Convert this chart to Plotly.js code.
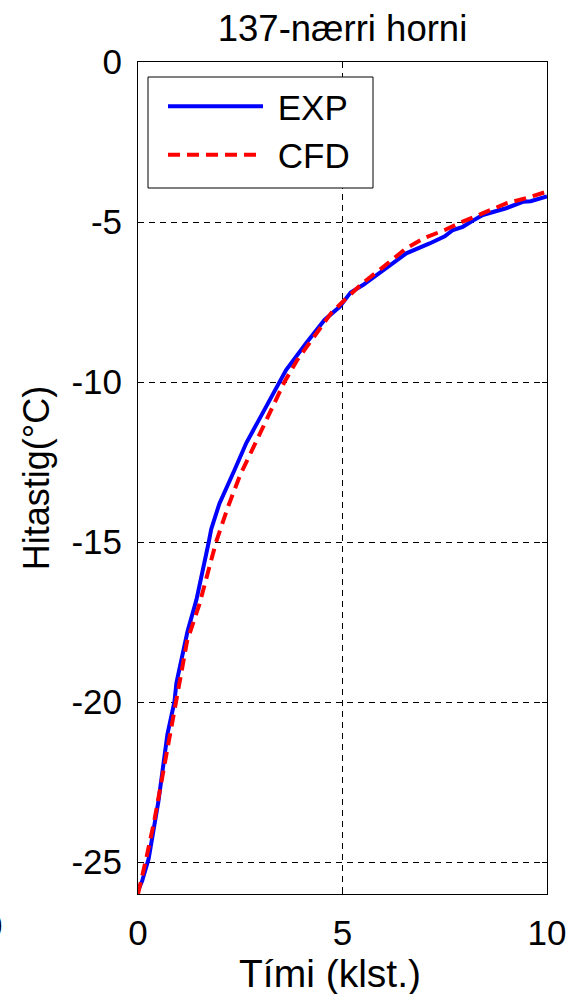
<!DOCTYPE html>
<html>
<head>
<meta charset="utf-8">
<script src="https://cdn.plot.ly/plotly-3.0.1.min.js"></script>
<style>html,body{margin:0;padding:0;background:#fff;}#chart{width:571px;height:994px;}</style>
</head>
<body>
<div id="chart"></div>
<script>
var chartTitle = "137-nærri horni";
var xTitle = "Tími (klst.)";
var yTitle = "Hitastig(°C)";
var seriesNames = ["EXP", "CFD"];

var expTime = [0, 0.1, 0.26, 0.5, 0.72, 0.89, 0.94, 1.21, 1.43, 1.59, 1.73, 1.79, 1.99, 2.36, 2.65, 2.95, 3.2, 3.46, 3.62, 4.11, 4.56, 4.93, 5.2, 5.5, 6.0, 6.56, 7.13, 7.5, 7.7, 7.94, 8.2, 8.43, 9.0, 9.41, 9.6, 10];
var expTemp = [-25.9, -25.6, -24.9, -23.1, -21.0, -20.0, -19.4, -17.8, -16.8, -15.9, -15.0, -14.6, -13.8, -12.75, -11.9, -11.2, -10.6, -10.0, -9.63, -8.79, -8.06, -7.65, -7.2, -6.97, -6.5, -5.98, -5.67, -5.45, -5.25, -5.15, -4.95, -4.78, -4.57, -4.37, -4.35, -4.2];

var cfdTime = [0, 0.1, 0.2, 0.4, 0.6, 0.8, 0.95, 1.2, 1.5, 1.8, 1.91, 2.2, 2.5, 2.8, 3.13, 3.4, 3.58, 3.9, 4.3, 4.72, 5.0, 5.5, 6.0, 6.56, 7.0, 7.5, 7.94, 8.5, 9.0, 9.5, 10];
var cfdTemp = [-26.0, -25.5, -24.9, -23.7, -22.3, -21.0, -20.0, -18.1, -16.95, -15.45, -15.0, -13.9, -12.9, -12.1, -11.2, -10.5, -10.0, -9.3, -8.6, -7.85, -7.5, -6.9, -6.4, -5.82, -5.5, -5.25, -4.99, -4.7, -4.42, -4.25, -4.05];

var xTicks = [0, 5, 10];
var yTicks = [0, -5, -10, -15, -20, -25];

var FONT = "Liberation Sans, Arial, sans-serif";
var NBSP = "\u00A0";

var traces = [
  {x: expTime, y: expTemp, name: NBSP + seriesNames[0], type: "scatter", mode: "lines",
   line: {color: "#0000FF", width: 4}},
  {x: cfdTime, y: cfdTemp, name: NBSP + seriesNames[1], type: "scatter", mode: "lines",
   line: {color: "#FF0000", width: 4, dash: "12px,7px"}}
];

var axisCommon = {
  showline: true, linecolor: "#000", linewidth: 1, mirror: "ticks",
  ticks: "inside", ticklen: 5, tickcolor: "#000", tickwidth: 1,
  showgrid: true, gridcolor: "#000", gridwidth: 1, griddash: "6px,5px",
  zeroline: false, tickfont: {family: FONT, size: 35, color: "#000"}
};

var layout = {
  width: 571, height: 994,
  margin: {l: 138, r: 24, t: 62, b: 100, pad: 0},
  paper_bgcolor: "#fff", plot_bgcolor: "#fff",
  font: {family: FONT, color: "#000"},
  title: {text: chartTitle, font: {family: FONT, size: 36.5, color: "#000"},
          x: 0.5, xref: "paper", y: 0.972, yref: "container", yanchor: "middle"},
  xaxis: Object.assign({}, axisCommon, {
    range: [0, 10], tickvals: xTicks, ticktext: xTicks.map(String), ticklabelstandoff: 8
  }),
  yaxis: Object.assign({}, axisCommon, {
    range: [-26, 0], tickvals: yTicks, ticktext: yTicks.map(String), ticklabelstandoff: 8,
    title: {text: yTitle, font: {family: FONT, size: 36, color: "#000"}, standoff: 10}
  }),
  showlegend: true,
  legend: {x: (163 - 138) / 409, y: 0.982, xanchor: "left", yanchor: "top",
           bgcolor: "rgba(0,0,0,0)", borderwidth: 0,
           font: {family: FONT, size: 35, color: "#000"}, itemwidth: 95,
           tracegroupgap: 0},
  shapes: [
    {type: "rect", xref: "paper", yref: "paper", layer: "above",
     x0: (148 - 138) / 409, x1: (373 - 138) / 409, y0: (894 - 188) / 832, y1: (894 - 77) / 832,
     line: {color: "#000", width: 1}, fillcolor: "#fff"}
  ],
  annotations: [
    {text: xTitle, xref: "paper", yref: "paper", x: (330 - 138) / 409, y: (894 - 973) / 832,
     xanchor: "center", yanchor: "middle", showarrow: false,
     font: {family: FONT, size: 39, color: "#000"}},
    {text: "0", xref: "paper", yref: "paper", x: (4 - 138) / 409, y: -0.038,
     xanchor: "right", yanchor: "middle", showarrow: false,
     font: {family: FONT, size: 35, color: "#000"}}
  ]
};

Plotly.newPlot("chart", traces, layout, {displayModeBar: false, staticPlot: true});
</script>
</body>
</html>
